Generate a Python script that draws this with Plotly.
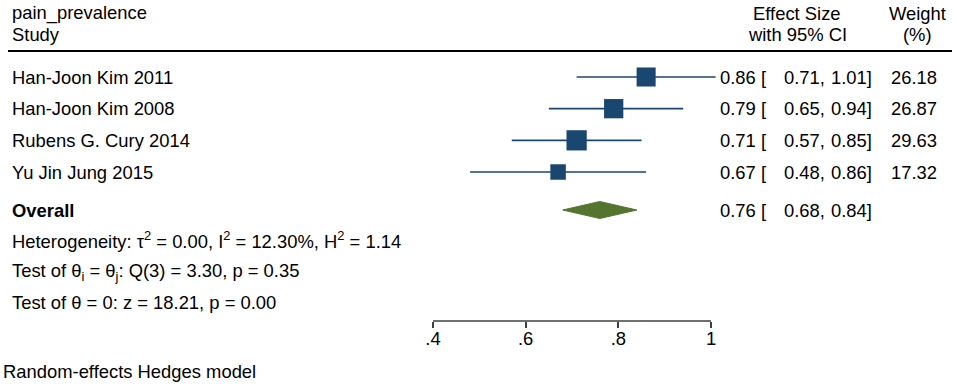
import plotly.graph_objects as go
import numpy as np

# ---------------- data ----------------
title_var = "pain_prevalence"
col_study = "Study"
col_es = ["Effect Size", "with 95% CI"]
col_w = ["Weight", "(%)"]

studies = ["Han-Joon Kim 2011", "Han-Joon Kim 2008", "Rubens G. Cury 2014", "Yu Jin Jung 2015"]
effect = [0.86, 0.79, 0.71, 0.67]
ci_low = [0.71, 0.65, 0.57, 0.48]
ci_high = [1.01, 0.94, 0.85, 0.86]
weight = [26.18, 26.87, 29.63, 17.32]

overall_label = "Overall"
overall_effect = 0.76
overall_low = 0.68
overall_high = 0.84

stats_lines = [
    "Heterogeneity: τ<sup>2</sup> = 0.00, I<sup>2</sup> = 12.30%, H<sup>2</sup> = 1.14",
    "Test of θ<sub>i</sub> = θ<sub>j</sub>: Q(3) = 3.30, p = 0.35",
    "Test of θ = 0: z = 18.21, p = 0.00",
]
model_note = "Random-effects Hedges model"

tick_values = [0.4, 0.6, 0.8, 1.0]
tick_labels = [".4", ".6", ".8", "1"]

# ---------------- layout constants ----------------
W, H = 957, 384
PX_04, PX_10 = 433, 711          # pixel of .4 and 1 on the axis
scale = (PX_10 - PX_04) / 0.6
x_range = [0.4 - PX_04 / scale, 0.4 + (W - PX_04) / scale]

ROW_PX = 31.67
TOP_ROW_PX = 77
AXIS_PX = 321
y_range = [(AXIS_PX - TOP_ROW_PX) / ROW_PX, -TOP_ROW_PX / ROW_PX]

row_y = [0, 1, 2, 3]
overall_y = 4.2
stats_y = [5.15, 6.15, 7.13]
hdr1_y, hdr2_y, hline_y = -2.02, -1.34, -0.82
note_paper_y = (AXIS_PX - 372) / AXIS_PX

NAVY = "#1a476f"
GREEN = "#55752f"
FONT = "Arial, 'Liberation Sans', sans-serif"
FS = 18.4

fig = go.Figure()

# CI lines
xs, ys = [], []
for lo, hi, y in zip(ci_low, ci_high, row_y):
    xs += [lo, hi, None]
    ys += [y, y, None]
fig.add_trace(go.Scatter(x=xs, y=ys, mode="lines", line=dict(color=NAVY, width=1.6),
                         hoverinfo="skip", showlegend=False))

# weighted squares
fig.add_trace(go.Scatter(x=effect, y=row_y, mode="markers",
                         marker=dict(symbol="square", color=NAVY, opacity=1,
                                     size=[3.72 * np.sqrt(w) for w in weight],
                                     line=dict(width=0)),
                         showlegend=False, cliponaxis=False))

# overall diamond
hh = 8.5 / ROW_PX
fig.add_trace(go.Scatter(x=[overall_low, overall_effect, overall_high, overall_effect, overall_low],
                         y=[overall_y, overall_y - hh, overall_y, overall_y + hh, overall_y],
                         mode="lines", fill="toself", fillcolor=GREEN,
                         line=dict(color=GREEN, width=1), showlegend=False))

ann = []


def txt(text, xpx, y, anchor="left", yref="y"):
    ann.append(dict(text=text, x=xpx / W, xref="paper", y=y, yref=yref,
                    xanchor=anchor, yanchor="middle", showarrow=False,
                    font=dict(family=FONT, size=FS, color="black")))


# headers
txt(title_var, 10, hdr1_y)
txt(col_study, 10, hdr2_y)
txt(col_es[0], 797, hdr1_y, "center")
txt(col_es[1], 797, hdr2_y, "center")
txt(col_w[0], 917, hdr1_y, "center")
txt(col_w[1], 917, hdr2_y, "center")

# study rows
for s, e, lo, hi, w, y in zip(studies, effect, ci_low, ci_high, weight, row_y):
    txt(s, 10, y)
    txt(f"{e:.2f} [", 718, y)
    txt(f"{lo:.2f},", 827, y, "right")
    txt(f"{hi:.2f}]", 874, y, "right")
    txt(f"{w:.2f}", 939, y, "right")

# overall row
txt(f"<b>{overall_label}</b>", 10, overall_y)
txt(f"{overall_effect:.2f} [", 718, overall_y)
txt(f"{overall_low:.2f},", 827, overall_y, "right")
txt(f"{overall_high:.2f}]", 874, overall_y, "right")

for s, y in zip(stats_lines, stats_y):
    txt(s, 10, y)

txt(model_note, 1, note_paper_y, yref="paper")

shapes = [
    dict(type="line", xref="paper", yref="y", x0=8 / W, x1=952 / W, y0=hline_y, y1=hline_y,
         line=dict(color="black", width=2)),
    dict(type="line", xref="x", yref="paper", x0=tick_values[0], x1=tick_values[-1], y0=0, y1=0,
         line=dict(color="#404040", width=1.5)),
]

fig.update_layout(
    width=W, height=H,
    margin=dict(l=0, r=0, t=0, b=H - AXIS_PX, pad=0),
    paper_bgcolor="white", plot_bgcolor="white",
    annotations=ann, shapes=shapes,
    xaxis=dict(range=x_range, showgrid=False, zeroline=False, showline=False,
               tickvals=tick_values, ticktext=tick_labels, ticks="outside",
               ticklen=6, tickwidth=1.5, tickcolor="#404040", ticklabelstandoff=-5,
               tickfont=dict(family=FONT, size=FS, color="black"), fixedrange=True),
    yaxis=dict(range=y_range, visible=False, fixedrange=True),
    font=dict(family=FONT, size=FS, color="black"),
)

fig.write_html("out.html", config={"displayModeBar": False},
               post_script="document.body.style.margin='0';document.body.style.overflow='hidden';")
